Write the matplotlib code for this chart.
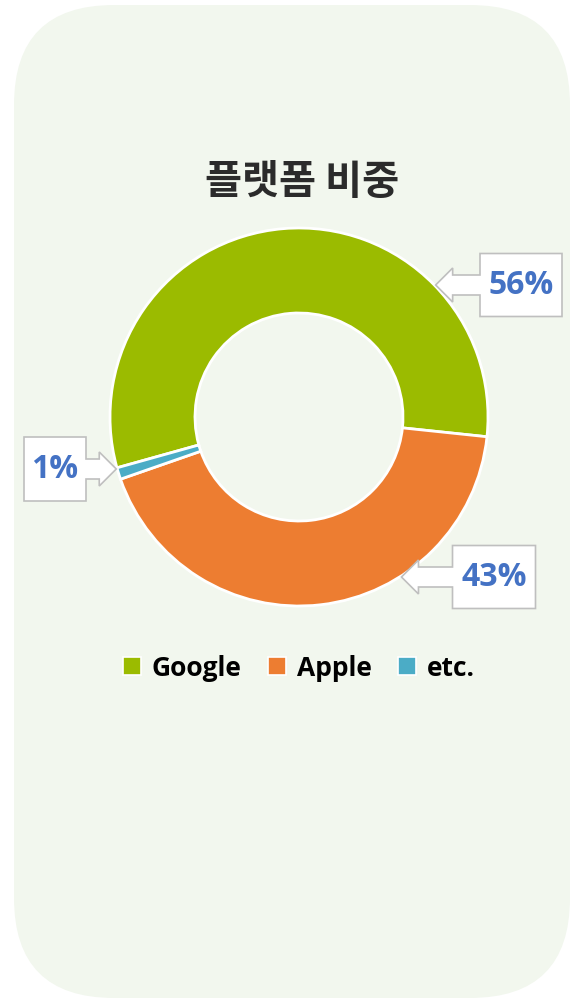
import matplotlib
matplotlib.use('Agg')
import matplotlib.pyplot as plt
from matplotlib.patches import FancyBboxPatch, Polygon, Patch
import numpy as np

# ---- data ----
categories = ['Google', 'Apple', 'etc.']
values = [56, 43, 1]
value_labels = ['56%', '43%', '1%']
colors = ['#9BBB00', '#ED7D31', '#4BACC6']
title = '플랫폼 비중'

W, H = 573, 1001
fig = plt.figure(figsize=(W / 100, H / 100), dpi=100)
fig.patch.set_facecolor('white')
ax = fig.add_axes([0, 0, 1, 1])

# background rounded panel
bg = FancyBboxPatch((14, H - 998), 556, 993,
                    boxstyle='round,pad=0,rounding_size=100',
                    fc='#F2F7EE', ec='none', zorder=0)
ax.add_patch(bg)

# donut
cx, cy = 299, H - 417
R, r_in = 189, 104
boundary_angle = -6  # angle where first slice ends (clockwise)
start = boundary_angle + 360 * values[0] / sum(values)
wedges, _ = ax.pie(values, colors=colors, startangle=start, counterclock=False,
                   radius=R, center=(cx, cy),
                   wedgeprops=dict(width=R - r_in, edgecolor='white', linewidth=2))
for w in wedges:
    w.set_zorder(2)

# title
fig.text(302 / W, 1 - 183 / H, title, ha='center', va='center', fontsize=29,
         fontweight='bold', color='#2B2B2B',
         family=['Noto Sans CJK KR', 'DejaVu Sans'])

# callouts: (box center x, box center y in screen px, box w, box h, side of pie)
callouts = [
    (521, 285, 82, 63, 'right'),
    (494, 577, 83, 63, 'right'),
    (55, 469, 62, 64, 'left'),
]
sh, hh, hl = 10, 17, 17
for (bx, by, bw, bh, side), lab in zip(callouts, value_labels):
    dy = by - 417
    dx = np.sqrt((R + 1) ** 2 - dy ** 2)
    x0, x1 = bx - bw / 2, bx + bw / 2
    y0, y1 = by - bh / 2, by + bh / 2
    if side == 'right':
        xt = cx + dx
        xb = xt + hl
        pts = [(x0, y0), (x1, y0), (x1, y1), (x0, y1),
               (x0, by + sh), (xb, by + sh), (xb, by + hh), (xt, by),
               (xb, by - hh), (xb, by - sh), (x0, by - sh)]
    else:
        xt = cx - dx
        xb = xt - hl
        pts = [(x1, y0), (x0, y0), (x0, y1), (x1, y1),
               (x1, by + sh), (xb, by + sh), (xb, by + hh), (xt, by),
               (xb, by - hh), (xb, by - sh), (x1, by - sh)]
    pts = [(px, H - py) for px, py in pts]
    ax.add_patch(Polygon(pts, closed=True, fc='white', ec='#BFBFBF', lw=1.2, zorder=5))
    ax.text(bx, H - by, lab, ha='center', va='center', fontsize=23,
            fontweight='bold', color='#4472C4', family='Open Sans', zorder=6)

# legend
handles = [Patch(facecolor=c, edgecolor='white', linewidth=1.2) for c in colors]
fig.legend(handles, categories, loc='center', bbox_to_anchor=(299 / W, 1 - 668 / H),
           ncol=3, frameon=False, handlelength=0.68, handleheight=0.68,
           handletextpad=0.4, columnspacing=1.0,
           prop=dict(family='Open Sans', weight='bold', size=19))

ax.set_xlim(0, W)
ax.set_ylim(0, H)
ax.set_aspect('equal')
ax.axis('off')

fig.savefig('out.png', dpi=100, facecolor='white')
